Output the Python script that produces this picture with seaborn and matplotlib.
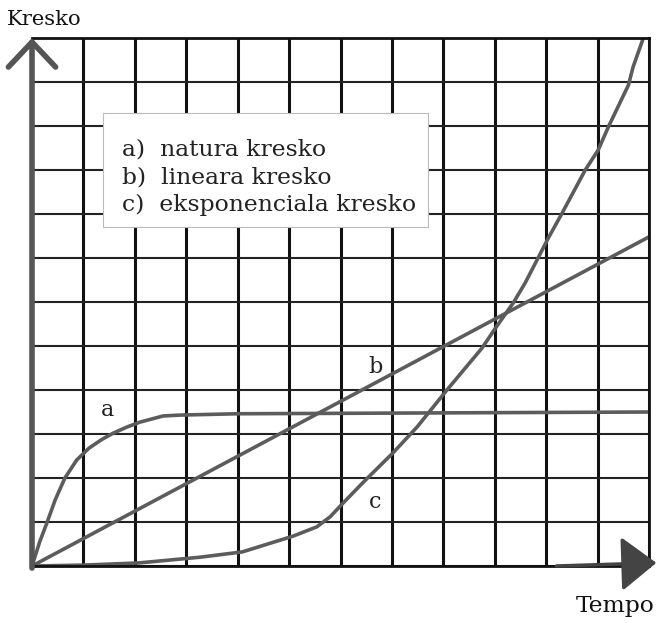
"""
Grafiko de tri kreskotipoj: natura, lineara kaj eksponenciala.
Konstruita per seaborn/matplotlib; savas out.png.
"""

import numpy as np
import pandas as pd
import matplotlib
matplotlib.use("Agg")
import matplotlib.pyplot as plt
from matplotlib.patches import Rectangle
import seaborn as sns

# ─────────────────────────────────────────────
# DATUMOJ (legitaj de la bildo, kradunuoj 0..12)
# ─────────────────────────────────────────────
x_a = [0, 0.15, 0.29, 0.45, 0.64, 0.87, 1.11, 1.35, 1.58, 1.85, 2.1,
       2.55, 2.88, 4, 6, 8, 10, 12]
y_a = [0, 0.55, 0.98, 1.5, 2.0, 2.41, 2.68, 2.87, 3.02, 3.16, 3.27,
       3.41, 3.43, 3.46, 3.47, 3.48, 3.49, 3.5]

x_b = [0, 12]
y_b = [0, 7.48]

x_c = [0, 1, 2.08, 3.27, 4.09, 5.08, 5.54, 5.8, 6.05, 6.44, 7.02, 7.49,
       8.07, 8.75, 9.01, 9.36, 9.59, 9.82, 10.04, 10.31, 10.76, 11.01,
       11.21, 11.6, 11.69, 11.89]
y_c = [0, 0.02, 0.07, 0.2, 0.32, 0.68, 0.89, 1.12, 1.43, 1.9, 2.57, 3.16,
       4.0, 4.95, 5.4, 5.98, 6.43, 6.95, 7.45, 8.02, 9.0, 9.45,
       9.98, 10.93, 11.34, 12.0]

curve_labels = ["a", "b", "c"]
legend_lines = ["a)  natura kresko", "b)  lineara kresko", "c)  eksponenciala kresko"]
x_title = "Tempo"
y_title = "Kresko"

GRID_N = 12
CURVE_COLOR = "#5c5c5c"
SERIF = ["DejaVu Serif"]

# ─────────────────────────────────────────────
# FIGURO
# ─────────────────────────────────────────────
sns.set_style("white")
plt.rcParams["font.family"] = SERIF

W, H = 657, 623
fig = plt.figure(figsize=(W / 100, H / 100), dpi=100)
ax = fig.add_axes([32 / W, (H - 566) / H, 617 / W, 528 / H])
ax.set_xlim(0, GRID_N)
ax.set_ylim(0, GRID_N)

# krado
ax.set_xticks(range(GRID_N + 1))
ax.set_yticks(range(GRID_N + 1))
ax.set_xticklabels([])
ax.set_yticklabels([])
ax.tick_params(length=0)
ax.grid(axis="x", color="#111111", linewidth=2.2)
ax.grid(axis="y", color="#222222", linewidth=1.5)
ax.set_axisbelow(True)
for side in ["top", "right", "bottom"]:
    ax.spines[side].set_color("#111111")
    ax.spines[side].set_linewidth(2.0)
ax.spines["left"].set_visible(False)

# kurboj
sns.lineplot(x=x_a, y=y_a, ax=ax, color=CURVE_COLOR, linewidth=2.6, sort=False)
sns.lineplot(x=x_b, y=y_b, ax=ax, color=CURVE_COLOR, linewidth=2.6, sort=False)
sns.lineplot(x=x_c, y=y_c, ax=ax, color=CURVE_COLOR, linewidth=2.6, sort=False)

# etikedoj de la kurboj
label_pos = [(1.46, 3.55), (6.69, 4.52), (6.67, 1.45)]
for lab, (lx, ly) in zip(curve_labels, label_pos):
    ax.text(lx, ly, lab, fontsize=16, ha="center", va="center", color="#222222")

# legendo-skatolo
ax.add_patch(Rectangle((1.38, 7.7), 6.32, 2.6, facecolor="white",
                       edgecolor="#bbbbbb", linewidth=0.8, zorder=3))
for i, line in enumerate(legend_lines):
    ax.text(1.75, 9.34 - i * 0.636, line, fontsize=16.9, ha="left",
            va="baseline", color="#222222", zorder=4)

# sagoj de la aksoj
ax.annotate("", xy=(0, 1.0), xytext=(0, -0.004), xycoords="axes fraction",
            arrowprops=dict(arrowstyle="->,head_length=0.9,head_width=0.85",
                            lw=4, color="#555555", mutation_scale=20,
                            shrinkA=0, shrinkB=0),
            annotation_clip=False)
ax.annotate("", xy=(1.012, 0.006), xytext=(0.85, 0.0), xycoords="axes fraction",
            arrowprops=dict(arrowstyle="-|>,head_length=1.1,head_width=0.85",
                            lw=2.5, color="#444444", mutation_scale=20,
                            shrinkA=0, shrinkB=0),
            annotation_clip=False)

# aksotitoloj
fig.text(7 / W, 1 - 25 / H, y_title, fontsize=15.2, ha="left", va="baseline",
         color="#111111")
fig.text(655 / W, 1 - 612 / H, x_title, fontsize=16.8, ha="right", va="baseline",
         color="#111111")

fig.savefig("out.png", dpi=100, facecolor="white")
plt.close(fig)
